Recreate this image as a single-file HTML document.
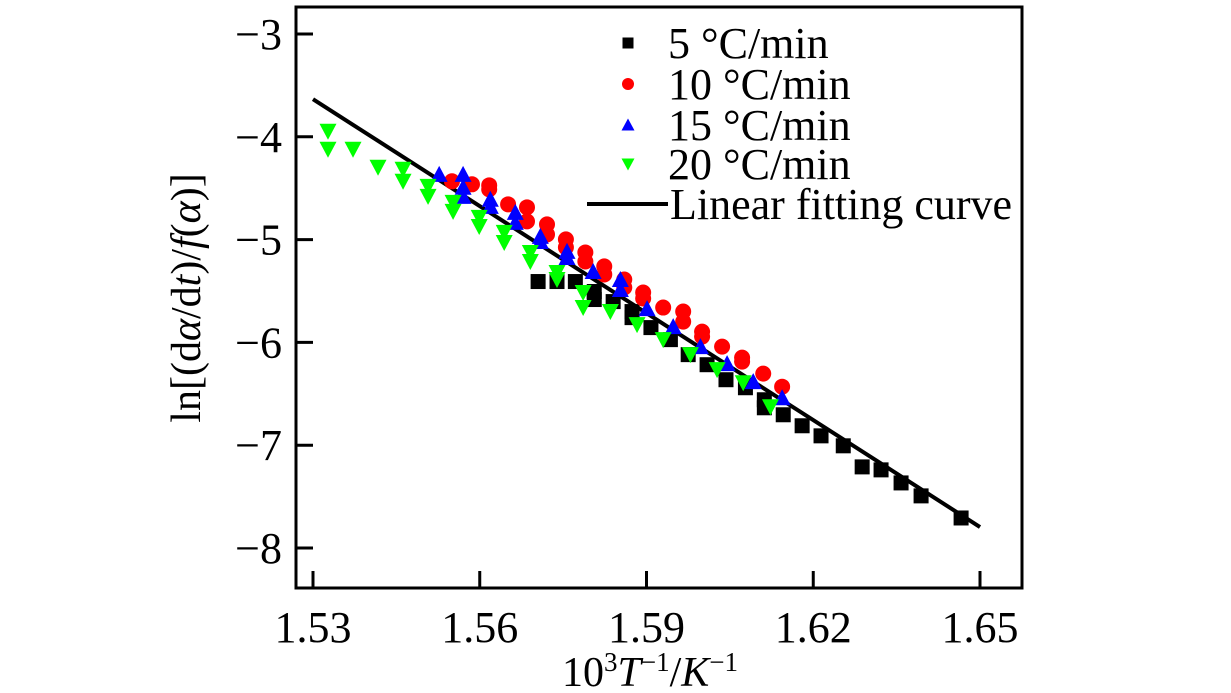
<!DOCTYPE html>
<html><head><meta charset="utf-8"><style>
html,body{margin:0;padding:0;background:#fff;}
svg, svg text{font-family:"Liberation Serif","DejaVu Serif","Times New Roman",serif;}
</style></head><body>
<svg id="chart" width="1231" height="693" viewBox="0 0 1231 693" style="position:absolute;left:0;top:0;">
<text font-family="Liberation Serif, serif" transform="translate(200,298) rotate(-90)" text-anchor="middle" font-size="42">ln[(d<tspan font-style="italic">α</tspan>/d<tspan font-style="italic">t</tspan>)/<tspan font-style="italic">f</tspan>(<tspan font-style="italic">α</tspan>)]</text>
<text font-family="Liberation Serif, serif" x="650" y="686" text-anchor="middle" font-size="42">10<tspan font-size="27" dy="-15">3</tspan><tspan font-style="italic" dy="15">T</tspan><tspan font-size="27" dy="-15">−1</tspan><tspan dy="15">/</tspan><tspan font-style="italic">K</tspan><tspan font-size="27" dy="-15">−1</tspan></text>
</svg>
<script>
const xTicks = [1.53, 1.56, 1.59, 1.62, 1.65];
const xTickLabels = ["1.53", "1.56", "1.59", "1.62", "1.65"];
const yTicks = [-3, -4, -5, -6, -7, -8];
const yTickLabels = ["\u22123", "\u22124", "\u22125", "\u22126", "\u22127", "\u22128"];
const s5x = [1.5705,1.5739,1.5772,1.5806,1.5806,1.5840,1.5874,1.5874,1.5908,1.5943,1.5975,1.6009,1.6043,1.6078,1.6112,1.6112,1.6146,1.6180,1.6214,1.6254,1.6288,1.6322,1.6358,1.6394,1.6466];
const s5y = [-5.408,-5.408,-5.408,-5.505,-5.583,-5.603,-5.700,-5.759,-5.856,-5.973,-6.119,-6.217,-6.363,-6.441,-6.558,-6.636,-6.704,-6.811,-6.909,-7.006,-7.211,-7.240,-7.367,-7.493,-7.708];
const s10x = [1.5550,1.5586,1.5617,1.5617,1.5651,1.5685,1.5685,1.5721,1.5721,1.5755,1.5755,1.5790,1.5790,1.5824,1.5824,1.5860,1.5860,1.5894,1.5894,1.5930,1.5966,1.5966,1.6000,1.6000,1.6036,1.6072,1.6072,1.6110,1.6144];
const s10y = [-4.433,-4.462,-4.472,-4.511,-4.657,-4.686,-4.823,-4.852,-4.950,-4.998,-5.076,-5.125,-5.213,-5.261,-5.339,-5.388,-5.466,-5.515,-5.573,-5.661,-5.700,-5.798,-5.895,-5.944,-6.041,-6.148,-6.187,-6.304,-6.431];
const s15x = [1.5527,1.5570,1.5570,1.5570,1.5619,1.5619,1.5664,1.5664,1.5709,1.5709,1.5757,1.5757,1.5804,1.5853,1.5853,1.5901,1.5948,1.5997,1.6045,1.6092,1.6144];
const s15y = [-4.365,-4.365,-4.491,-4.579,-4.608,-4.677,-4.735,-4.833,-4.969,-5.018,-5.115,-5.174,-5.310,-5.388,-5.486,-5.671,-5.846,-6.041,-6.207,-6.382,-6.538];
const s20x = [1.5327,1.5327,1.5372,1.5417,1.5462,1.5462,1.5507,1.5507,1.5552,1.5552,1.5599,1.5599,1.5644,1.5644,1.5691,1.5691,1.5739,1.5739,1.5786,1.5786,1.5835,1.5883,1.5930,1.5979,1.6027,1.6074,1.6123];
const s20y = [-3.946,-4.121,-4.121,-4.296,-4.316,-4.433,-4.482,-4.579,-4.638,-4.725,-4.784,-4.872,-4.930,-5.028,-5.125,-5.213,-5.320,-5.388,-5.515,-5.661,-5.700,-5.827,-5.973,-6.119,-6.265,-6.392,-6.626];
const fitX = [1.53, 1.65];
const fitY = [-3.634, -7.796];

const NS = "http://www.w3.org/2000/svg";
const svg = document.getElementById('chart');
const FONT = "Liberation Serif, DejaVu Serif, serif";
const X0 = 296, X1 = 1022, Y0 = 7, Y1 = 588;
function sx(v){ return 313 + (v - 1.53) / 0.12 * 667; }
function sy(v){ return 34 + (-3 - v) * 102.8; }
function mk(tag, attrs, parent){
  const e = document.createElementNS(NS, tag);
  for (const k in attrs) e.setAttribute(k, attrs[k]);
  (parent || svg).appendChild(e);
  return e;
}
const frame = mk('rect', {x:X0, y:Y0, width:X1-X0, height:Y1-Y0, fill:'none', stroke:'#000', 'stroke-width':3});



xTicks.forEach((v, i) => {
  const t = mk('line', {x1:sx(v), x2:sx(v), y1:Y1, y2:Y1-17, stroke:'#000', 'stroke-width':3});
  
  
  const l = mk('text', {x:sx(v), y:642, 'text-anchor':'middle', 'font-size':44, 'font-family':FONT});
  l.textContent = xTickLabels[i];
  
  
});
yTicks.forEach((v, i) => {
  const t = mk('line', {x1:X0, x2:X0+17, y1:sy(v), y2:sy(v), stroke:'#000', 'stroke-width':3});
  
  
  const l = mk('text', {x:282, y:sy(v)+15, 'text-anchor':'end', 'font-size':44, 'font-family':FONT});
  l.textContent = yTickLabels[i];
  
  
});

const fit = mk('line', {x1:sx(fitX[0]), y1:sy(fitY[0]), x2:sx(fitX[1]), y2:sy(fitY[1]), stroke:'#000', 'stroke-width':4});



function marker(kind, cx, cy, color, s){
  let e;
  if (kind === 'sq') e = mk('rect', {x:cx-s/2, y:cy-s/2, width:s, height:s, fill:color});
  else if (kind === 'ci') e = mk('circle', {cx:cx, cy:cy, r:s/2+0.5, fill:color});
  else if (kind === 'up') e = mk('polygon', {points:`${cx},${cy-s/2-1} ${cx-s/2-1},${cy+s/2} ${cx+s/2+1},${cy+s/2}`, fill:color});
  else e = mk('polygon', {points:`${cx},${cy+s/2+1} ${cx-s/2-1},${cy-s/2} ${cx+s/2+1},${cy-s/2}`, fill:color});
  return e;
}
const series = [
  {x:s5x, y:s5y, k:'sq', c:'#000000', n:'point-5cmin'},
  {x:s10x, y:s10y, k:'ci', c:'#ff0000', n:'point-10cmin'},
  {x:s15x, y:s15y, k:'up', c:'#0000ff', n:'point-15cmin'},
  {x:s20x, y:s20y, k:'dn', c:'#00ff00', n:'point-20cmin'}
];
series.forEach(s => {
  s.x.forEach((xv, i) => {
    const m = marker(s.k, sx(xv), sy(s.y[i]), s.c, 15);
    
    
  });
});

const legLabels = ["5 \u00B0C/min", "10 \u00B0C/min", "15 \u00B0C/min", "20 \u00B0C/min"];
const legY = [43, 84, 125, 164];
series.forEach((s, i) => {
  const m = marker(s.k, 628, legY[i], s.c, 11);
  
  
  const t = mk('text', {x:668, y:legY[i]+15, 'font-size':44, 'font-family':FONT});
  t.textContent = legLabels[i];
  
  
});
const ll = mk('line', {x1:587, x2:668, y1:204, y2:204, stroke:'#000', 'stroke-width':4});


const lt = mk('text', {x:670, y:219, 'font-size':44, 'font-family':FONT});
lt.textContent = "Linear fitting curve";


</script>
</body></html>
